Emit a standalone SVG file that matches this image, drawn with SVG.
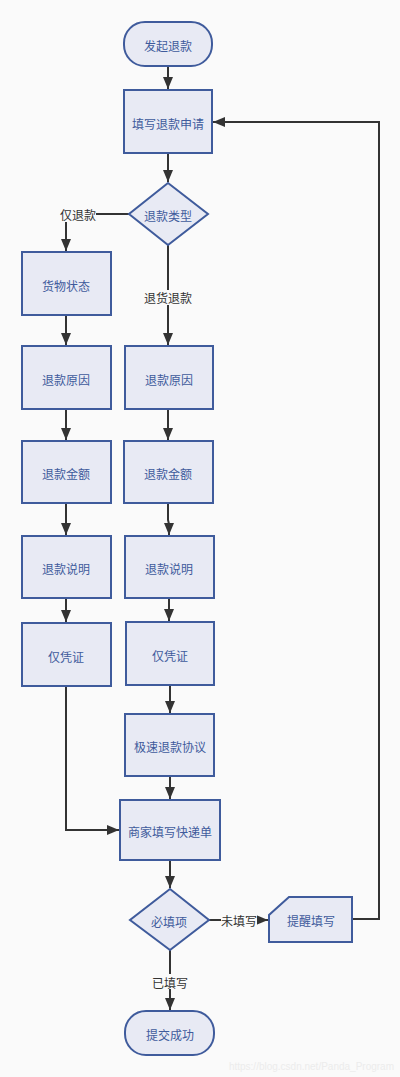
<svg xmlns="http://www.w3.org/2000/svg" width="400" height="1077" viewBox="0 0 400 1077">
<defs>
<marker id="arr" viewBox="0 0 12 10" refX="12" refY="5" markerWidth="12" markerHeight="10" markerUnits="userSpaceOnUse" orient="auto">
<path d="M0,0 L12,5 L0,10 z" fill="#333"/>
</marker>
<style>
.n{fill:#e8eaf4;stroke:#3f5b9c;stroke-width:2}
.t{font-family:"Noto Sans CJK SC","Liberation Sans",sans-serif;font-size:12px;fill:#3f5b9c;text-anchor:middle;dominant-baseline:central}
.e{fill:none;stroke:#333;stroke-width:2}
.lb{fill:#fafafa}
.lt{font-family:"Noto Sans CJK SC","Liberation Sans",sans-serif;font-size:12px;fill:#333;text-anchor:middle;dominant-baseline:central}
</style>
</defs>
<rect width="400" height="1077" fill="#fafafa"/>
<g id="connectors">
<path class="e" d="M168,66 L168,89" marker-end="url(#arr)"/>
<path class="e" d="M168,153 L168,182" marker-end="url(#arr)"/>
<path class="e" d="M129,214 L66,214 L66,251" marker-end="url(#arr)"/>
<path class="e" d="M168,245 L168,345" marker-end="url(#arr)"/>
<path class="e" d="M66,315 L66,345" marker-end="url(#arr)"/>
<path class="e" d="M66,409 L66,440" marker-end="url(#arr)"/>
<path class="e" d="M66,503 L66,535" marker-end="url(#arr)"/>
<path class="e" d="M66,598 L66,622" marker-end="url(#arr)"/>
<path class="e" d="M168,409 L168,440" marker-end="url(#arr)"/>
<path class="e" d="M168,503 L168,520 L169,524 L169,535" marker-end="url(#arr)"/>
<path class="e" d="M169,598 L169,621" marker-end="url(#arr)"/>
<path class="e" d="M170,685 L170,713" marker-end="url(#arr)"/>
<path class="e" d="M170,776 L170,799" marker-end="url(#arr)"/>
<path class="e" d="M66,686 L66,830 L119,830" marker-end="url(#arr)"/>
<path class="e" d="M170,860 L170,888" marker-end="url(#arr)"/>
<path class="e" d="M209,920 L268,920" marker-end="url(#arr)"/>
<path class="e" d="M170,950 L170,1010" marker-end="url(#arr)"/>
<path class="e" d="M353,919 L379,919 L379,122 L213,122" marker-end="url(#arr)"/>
<g id="label-1"><rect class="lb" x="60" y="207" width="36" height="15"/><text class="lt" x="78" y="214">仅退款</text></g>
<g id="label-2"><rect class="lb" x="144" y="290" width="48" height="15"/><text class="lt" x="168" y="297">退货退款</text></g>
<g id="label-3"><rect class="lb" x="221" y="912" width="36" height="15"/><text class="lt" x="239" y="920">未填写</text></g>
<g id="label-4"><rect class="lb" x="152" y="974" width="36" height="15"/><text class="lt" x="170" y="982">已填写</text></g>
</g>
<g id="start"><rect class="n" x="124" y="22" width="88" height="44" rx="21"/><text class="t" x="168" y="45">发起退款</text></g>
<g id="apply"><rect class="n" x="124" y="90" width="88" height="63"/><text class="t" x="168" y="123">填写退款申请</text></g>
<g id="type"><polygon class="n" points="168,183 208,214 168,245 129,214"/><text class="t" x="168" y="215">退款类型</text></g>
<g id="goods"><rect class="n" x="22" y="252" width="89" height="63"/><text class="t" x="66" y="285">货物状态</text></g>
<g id="reasonL"><rect class="n" x="22" y="346" width="89" height="63"/><text class="t" x="66" y="379">退款原因</text></g>
<g id="amountL"><rect class="n" x="22" y="441" width="89" height="62"/><text class="t" x="66" y="473">退款金额</text></g>
<g id="descL"><rect class="n" x="22" y="536" width="89" height="62"/><text class="t" x="66" y="568">退款说明</text></g>
<g id="proofL"><rect class="n" x="22" y="623" width="89" height="63"/><text class="t" x="66" y="656">仅凭证</text></g>
<g id="reasonR"><rect class="n" x="125" y="346" width="88" height="63"/><text class="t" x="169" y="379">退款原因</text></g>
<g id="amountR"><rect class="n" x="124" y="441" width="89" height="62"/><text class="t" x="168" y="473">退款金额</text></g>
<g id="descR"><rect class="n" x="125" y="536" width="89" height="62"/><text class="t" x="169" y="568">退款说明</text></g>
<g id="proofR"><rect class="n" x="126" y="622" width="88" height="63"/><text class="t" x="170" y="655">仅凭证</text></g>
<g id="fast"><rect class="n" x="125" y="714" width="89" height="62"/><text class="t" x="170" y="746">极速退款协议</text></g>
<g id="express"><rect class="n" x="120" y="800" width="100" height="60"/><text class="t" x="170" y="831">商家填写快递单</text></g>
<g id="required"><polygon class="n" points="170,889 209,920 170,950 130,920"/><text class="t" x="169" y="921">必填项</text></g>
<g id="remind"><polygon class="n" points="289,897 352,897 352,942 269,942 269,915"/><text class="t" x="311" y="920">提醒填写</text></g>
<g id="done"><rect class="n" x="125" y="1011" width="89" height="44" rx="21"/><text class="t" x="170" y="1034">提交成功</text></g>
<text x="394" y="1070" font-family="Liberation Sans, sans-serif" font-size="10" fill="#ececec" text-anchor="end">https://blog.csdn.net/Panda_Program</text>
</svg>
